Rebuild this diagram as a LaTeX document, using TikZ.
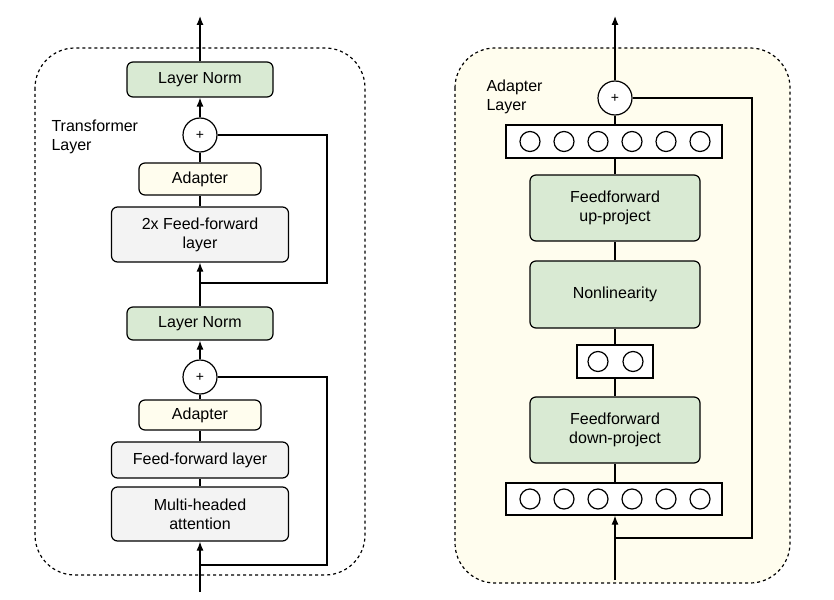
\documentclass[tikz,border=0pt]{standalone}
\usepackage{fontspec}
\setmainfont{Liberation Sans}
\usetikzlibrary{arrows.meta}
\definecolor{normgreen}{HTML}{D9EAD3}
\definecolor{ffgray}{HTML}{F3F3F3}
\definecolor{adaptyellow}{HTML}{FFFDEE}
\tikzset{
	blk/.style={draw, rounded corners=6pt, line width=1.2pt, align=center, font=\fontsize{16}{19}\selectfont, inner sep=0pt},
	plus/.style={draw, circle, line width=1.2pt, minimum size=34pt, inner sep=0pt, fill=white, font=\fontsize{14}{16}\selectfont},
	vec/.style={draw, line width=1.2pt, fill=white, inner sep=0pt},
	unit/.style={draw, circle, line width=1.2pt, minimum size=20pt, inner sep=0pt},
	wire/.style={line width=1.2pt},
	arr/.style={line width=1.2pt, -{Latex[length=9pt,width=7pt]}}
}
\begin{document}
\begin{tikzpicture}[x=1pt, y=-1pt]
	\useasboundingbox (0,0) rectangle (834,599);

	% transformer layer
	\draw[dashed, line width=1.2pt, rounded corners=40pt] (35,48) rectangle (365,575);
	\node[align=left, anchor=north west, font=\fontsize{16}{19}\selectfont] (tl) at (48,116) {Transformer\\Layer};

	\node[blk, fill=normgreen, minimum width=146pt, minimum height=35pt] (n1) at (200,79.5) {Layer Norm};
	\node[plus] (p1) at (200,135) {+};
	\node[blk, fill=adaptyellow, minimum width=122pt, minimum height=32pt] (n2) at (200,179) {Adapter};
	\node[blk, fill=ffgray, minimum width=177pt, minimum height=55pt] (n3) at (200,234.5) {2x Feed-forward\\layer};
	\node[blk, fill=normgreen, minimum width=146pt, minimum height=33pt] (n4) at (200,323.5) {Layer Norm};
	\node[plus] (p2) at (200,377) {+};
	\node[blk, fill=adaptyellow, minimum width=122pt, minimum height=30pt] (n5) at (200,415) {Adapter};
	\node[blk, fill=ffgray, minimum width=177pt, minimum height=36pt] (n6) at (200,460) {Feed-forward layer};
	\node[blk, fill=ffgray, minimum width=177pt, minimum height=54pt] (n7) at (200,514) {Multi-headed\\attention};
	\coordinate (in1) at (200,592);
	\coordinate (out1) at (200,16);
	\coordinate (s1) at (200,283);
	\coordinate (s2) at (200,565);

	\draw[arr] (n1) -- (out1);
	\draw[arr] (p1) -- (n1);
	\draw[wire] (n2) -- (p1);
	\draw[wire] (n3) -- (n2);
	\draw[arr] (n4.north) -- (n3.south);
	\draw[wire] (s1) -| (327,135) -- (p1.east);
	\draw[arr] (p2) -- (n4);
	\draw[wire] (n5) -- (p2);
	\draw[wire] (n6) -- (n5);
	\draw[wire] (n7) -- (n6);
	\draw[arr] (in1) -- (n7);
	\draw[wire] (s2) -| (327,377) -- (p2.east);

	% adapter layer
	\draw[dashed, line width=1.2pt, rounded corners=40pt, fill=adaptyellow] (455,48) rectangle (790,583);
	\node[align=left, anchor=north west, font=\fontsize{16}{19}\selectfont] (al) at (483,76) {Adapter\\Layer};

	\node[plus] (p3) at (615,98) {+};
	\node[vec, minimum width=216pt, minimum height=33pt] (v1) at (614,141.5) {};
	\node[blk, fill=normgreen, minimum width=170pt, minimum height=66pt] (m1) at (615,208) {Feedforward\\up-project};
	\node[blk, fill=normgreen, minimum width=170pt, minimum height=67pt] (m2) at (615,294.5) {Nonlinearity};
	\node[vec, minimum width=76pt, minimum height=33pt] (v2) at (615,361.5) {};
	\node[blk, fill=normgreen, minimum width=170pt, minimum height=66pt] (m3) at (615,430) {Feedforward\\down-project};
	\node[vec, minimum width=216pt, minimum height=32pt] (v3) at (614,499) {};
	\foreach \i in {0,...,5} {
		\node[unit] (a\i) at (530+34*\i,141.5) {};
		\node[unit] (b\i) at (530+34*\i,499) {};
	}
	\node[unit] (c0) at (598,361.5) {};
	\node[unit] (c1) at (633,361.5) {};
	\coordinate (in2) at (615,580);
	\coordinate (out2) at (615,16);
	\coordinate (s3) at (615,538);

	\draw[arr] (p3) -- (out2);
	\draw[wire] (v1.north -| p3) -- (p3);
	\draw[wire] (m1) -- (v1.south -| m1);
	\draw[wire] (m2) -- (m1);
	\draw[wire] (v2) -- (m2);
	\draw[wire] (m3) -- (v2);
	\draw[wire] (v3.north -| m3) -- (m3);
	\draw[arr] (in2) -- (v3.south -| in2);
	\draw[wire] (s3) -| (752,98) -- (p3.east);
\end{tikzpicture}
\end{document}
